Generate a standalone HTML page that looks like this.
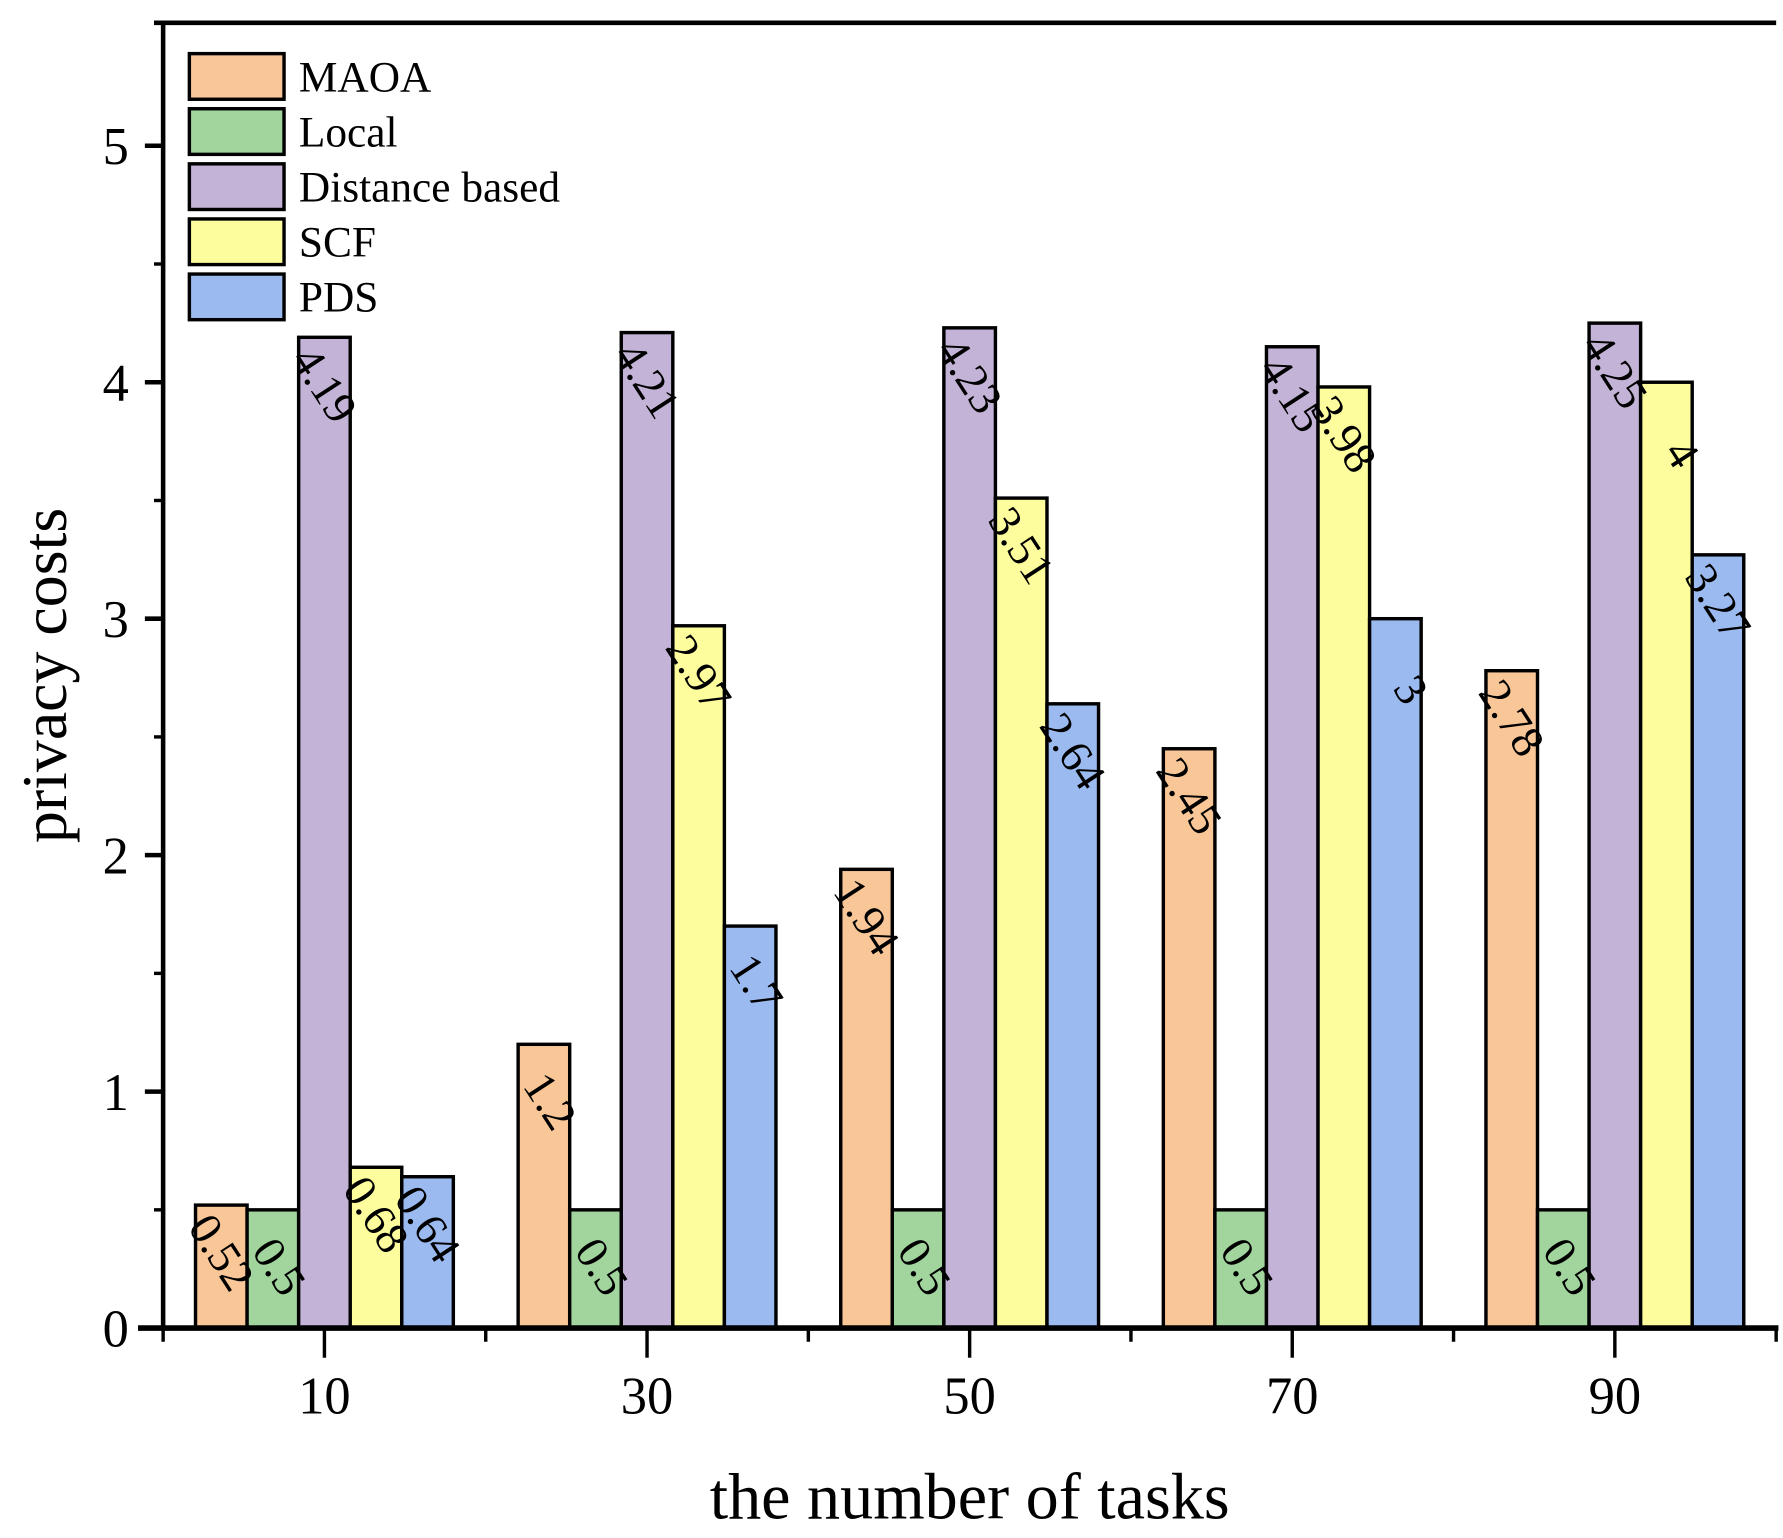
<!DOCTYPE html>
<html><head><meta charset="utf-8"><style>
html,body{margin:0;padding:0;background:#fff}
svg{display:block}
text{font-family:"Liberation Serif",serif;fill:#000}
</style></head><body>
<svg id="chart" width="1783" height="1538" viewBox="0 0 1563 1348" preserveAspectRatio="none" xmlns="http://www.w3.org/2000/svg">
<g id="bars"></g>
<g id="axes"></g>
<g id="legend"></g>
</svg>
<script>
const categories = ["10","30","50","70","90"];
const seriesNames = ["MAOA","Local","Distance based","SCF","PDS"];
const maoa = [0.52,1.2,1.94,2.45,2.78];
const local = [0.5,0.5,0.5,0.5,0.5];
const distance = [4.19,4.21,4.23,4.15,4.25];
const scf = [0.68,2.97,3.51,3.98,4];
const pds = [0.64,1.7,2.64,3,3.27];
const yTicks = [0,1,2,3,4,5];
const colors = ["#F9C797","#A1D59D","#C3B3D6","#FDFD9E","#9BBAF0"];

const NS="http://www.w3.org/2000/svg";
const L=143,R=1557,T=20,B=1164;
const yMax=5.52;
function y(v){return B-(v/yMax)*(B-T);}
function x(v){return L+(v/100)*(R-L);}
function mk(tag,attrs,parent){const e=document.createElementNS(NS,tag);for(const k in attrs)e.setAttribute(k,attrs[k]);parent.appendChild(e);return e;}
function txt(px,py,size,anchor,rot,parent){
  let tr=`translate(${px} ${py})`;
  if(rot) tr+=` rotate(${rot})`;
  return mk('text',{x:0,y:0,'font-size':size,'text-anchor':anchor,transform:tr},parent);
}
const gb=document.getElementById('bars'),ga=document.getElementById('axes'),gl=document.getElementById('legend');
const series=[maoa,local,distance,scf,pds];
const bw=45.2;
categories.forEach((c,i)=>{
  const cx=x(10+20*i);
  series.forEach((s,j)=>{
    const x0=cx-2.5*bw+j*bw;
    const r=mk('rect',{x:x0,y:y(s[i]),width:bw,height:B-y(s[i]),fill:colors[j],stroke:'#000','stroke-width':3},gb);
    
    
  });
});
series.forEach((s,j)=>{
  s.forEach((v,i)=>{
    const cx=x(10+20*i)-2.5*bw+j*bw+bw/2;
    const t=txt(cx+8,y(v)+78,40,'end',57,gb);
    
    
    t.textContent=String(v);
  });
});
mk('line',{x1:L,y1:T,x2:L,y2:B+2,stroke:'#000','stroke-width':4},ga);
mk('line',{x1:L-8,y1:T,x2:R,y2:T,stroke:'#000','stroke-width':4},ga);
mk('line',{x1:L-22,y1:B,x2:R+2,y2:B,stroke:'#000','stroke-width':5},ga);
yTicks.forEach(v=>{
  mk('line',{x1:L-16,y1:y(v),x2:L,y2:y(v),stroke:'#000','stroke-width':4},ga);
  const t=txt(L-30,y(v)+16,46,'end',0,ga);
  
  
  t.textContent=v;
  if(v<5) mk('line',{x1:L-8,y1:y(v+0.5),x2:L,y2:y(v+0.5),stroke:'#000','stroke-width':3},ga);
});
for(let k=0;k<=5;k++){ mk('line',{x1:x(20*k),y1:B,x2:x(20*k),y2:B+12,stroke:'#000','stroke-width':3},ga); }
categories.forEach((c,i)=>{
  const cx=x(10+20*i);
  mk('line',{x1:cx,y1:B,x2:cx,y2:B+26,stroke:'#000','stroke-width':3},ga);
  const t=txt(cx,B+75,46,'middle',0,ga);
  
  
  t.textContent=c;
});
const xt=txt(850,1331,58,'middle',0,ga);


xt.textContent='the number of tasks';
const yt=txt(58,592,56,'middle',-90,ga);


yt.textContent='privacy costs';
seriesNames.forEach((n,j)=>{
  const cy=67+j*48.3;
  const r=mk('rect',{x:166,y:cy-20,width:83,height:40,fill:colors[j],stroke:'#000','stroke-width':3},gl);
  
  
  const t=txt(262,cy+13,38,'start',0,gl);
  
  
  t.textContent=n;
});
</script>
</body></html>
